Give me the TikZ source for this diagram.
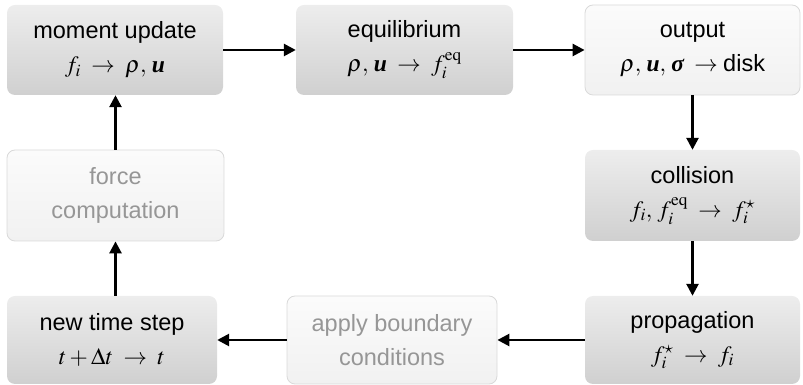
\documentclass[tikz,border=0pt]{standalone}
\usepackage{mathptmx}
\usepackage[no-math]{fontspec}
\setmainfont{Liberation Sans}
\newfontfamily\tmsbi{Liberation Serif}
\usetikzlibrary{arrows.meta, positioning}
\definecolor{textgrey}{RGB}{150,150,150}
\newcommand{\vu}{\mbox{\tmsbi\bfseries\itshape u}}
\newcommand{\vsig}{\mbox{\tmsbi\bfseries\itshape σ}}
\newcommand{\too}{\;\rightarrow\;}

\begin{document}
\begin{tikzpicture}[x=1pt, y=1pt,
    every node/.style={align=center, inner sep=0pt, font=\fontsize{23.5}{34}\selectfont},
    darkbox/.style={rounded corners=8pt, top color=gray!14, bottom color=gray!37,
        minimum width=216pt, minimum height=90pt},
    lightbox/.style={rounded corners=8pt, draw=gray!30, line width=0.8pt,
        top color=gray!3, bottom color=gray!11, minimum width=216pt, minimum height=90pt},
    flow/.style={-{Triangle[length=12pt, width=12pt]}, line width=2.6pt}]
    \useasboundingbox (0,0) rectangle (803,385);
    % top row
    \node[darkbox] (moment) at (115,335) {moment update\\ \(f_i \too \rho,\, \vu\)};
    \node[darkbox, minimum width=217pt] (equil) at (404.5,335) {equilibrium\\ \(\rho,\, \vu \too f_i^{\mathrm{eq}}\)};
    \node[lightbox, minimum width=215pt] (output) at (692.5,335) {output\\ \(\rho,\, \vu,\, \vsig \too\)disk};
    % right column
    \node[darkbox, minimum width=215pt, minimum height=91pt] (collide) at (692.5,189.5) {collision\\ \(f_i,\, f_i^{\mathrm{eq}} \too f_i^{\star}\)};
    \node[darkbox, minimum width=215pt, minimum height=88pt] (propag) at (692.5,45) {propagation\\ \(f_i^{\star} \too f_i\)};
    % bottom row and left column
    \node[lightbox, minimum width=210pt, minimum height=88pt, text=textgrey] (boundary) at (392,45) {apply boundary\\ conditions};
    \node[darkbox, minimum width=210pt, minimum height=88pt] (newstep) at (112,45) {new time step\\ \(t + \Delta t \too t\)};
    \node[lightbox, minimum width=217pt, minimum height=91pt, text=textgrey] (force) at (115.5,189.5) {force\\ computation};

    \draw[flow] (moment) -- (equil);
    \draw[flow] (equil) -- (output);
    \draw[flow] (output) -- (collide);
    \draw[flow] (collide) -- (propag);
    \draw[flow] (propag) -- (boundary);
    \draw[flow] (boundary) -- (newstep);
    \draw[flow] (newstep.north -| force) -- (force);
    \draw[flow] (force) -- (moment.south -| force);
\end{tikzpicture}
\end{document}
